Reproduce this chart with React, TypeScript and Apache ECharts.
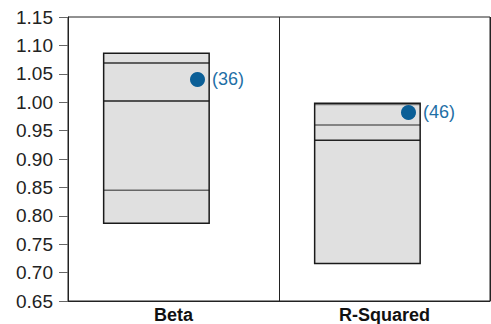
import React, { useEffect, useRef } from "react";
import * as echarts from "echarts";

const categories = ["Beta", "R-Squared"];
const boxLow = [0.787, 0.716];
const boxHigh = [1.086, 0.998];
const upperLine = [1.069, 0.996];
const midLine = [1.002, 0.96];
const lowerLine = [0.845, 0.933];
const pointValues = [1.04, 0.982];
const pointRanks = [36, 46];
const yTicks = { min: 0.65, max: 1.15, step: 0.05 };

const lineColors = [
  ["#333333", "#222222", "#666666"],
  ["#777777", "#666666", "#222222"],
];

const FONT = "'Liberation Sans', Arial, sans-serif";

export default function App() {
  const ref = useRef<HTMLDivElement>(null);
  useEffect(() => {
    if (!ref.current) return;
    const chart = echarts.init(ref.current, null, { renderer: "svg" });
    const boxData = categories.map((_, i) => [i, boxLow[i], boxHigh[i], upperLine[i], midLine[i], lowerLine[i]]);
    const pointData = categories.map((_, i) => [i, pointValues[i], pointRanks[i]]);
    chart.setOption({
      animation: false,
      textStyle: { fontFamily: FONT },
      grid: {
        left: 68,
        right: 1,
        top: 17,
        bottom: 23,
        show: true,
        borderColor: "#222",
        borderWidth: 1,
        backgroundColor: "transparent",
      },
      xAxis: {
        type: "category",
        data: categories,
        boundaryGap: true,
        axisLine: { show: true, lineStyle: { color: "#222", width: 1 } },
        axisTick: { show: false },
        splitLine: { show: true, lineStyle: { color: "#222", width: 1 } },
        axisLabel: {
          color: "#111",
          fontSize: 18,
          fontWeight: "bold",
          margin: 5,
          fontFamily: FONT,
        },
      },
      yAxis: {
        type: "value",
        min: yTicks.min,
        max: yTicks.max,
        interval: yTicks.step,
        axisLine: { show: true, lineStyle: { color: "#222", width: 1 } },
        axisTick: { show: true, length: 9, lineStyle: { color: "#666" } },
        splitLine: { show: false },
        axisLabel: {
          color: "#222",
          fontSize: 19,
          margin: 15,
          formatter: (v: number) => v.toFixed(2),
          fontFamily: FONT,
        },
      },
      series: [
        {
          type: "custom",
          data: boxData,
          encode: { x: 0, y: [1, 2] },
          renderItem: (params: any, api: any) => {
            const idx = params.dataIndex;
            const cat = api.value(0);
            const bw = api.size([1, 0])[0];
            const lowPt = api.coord([cat, api.value(1)]);
            const highPt = api.coord([cat, api.value(2)]);
            const x0 = lowPt[0] - 0.331 * bw;
            const w = 0.5 * bw;
            const children: any[] = [
              {
                type: "rect",
                shape: { x: x0, y: highPt[1], width: w, height: lowPt[1] - highPt[1] },
                style: { fill: "#e0e0e0", stroke: "none" },
              },
            ];
            [3, 4, 5].forEach((d, k) => {
              const p = api.coord([cat, api.value(d)]);
              children.push({
                type: "line",
                shape: { x1: x0, y1: p[1], x2: x0 + w, y2: p[1] },
                style: { stroke: lineColors[idx][k], lineWidth: 1.5 },
              });
            });
            children.push({
              type: "rect",
              shape: { x: x0, y: highPt[1], width: w, height: lowPt[1] - highPt[1] },
              style: { fill: "none", stroke: "#1a1a1a", lineWidth: 1.5 },
            });
            return { type: "group", children };
          },
          z: 2,
        },
        {
          type: "scatter",
          data: pointData,
          symbol: "circle",
          symbolSize: 15,
          symbolOffset: [24, 0],
          itemStyle: { color: "#0b5f97", opacity: 1 },
          label: {
            show: true,
            position: "right",
            distance: 7,
            color: "#1f6fa6",
            fontSize: 18,
            fontFamily: FONT,
            formatter: (p: any) => "(" + p.value[2] + ")",
          },
          z: 3,
        },
      ],
    });
    return () => chart.dispose();
  }, []);
  return (
    <div
      ref={ref}
      style={{ position: "absolute", left: 0, top: 0, width: 491, height: 324, background: "#fff" }}
    />
  );
}
